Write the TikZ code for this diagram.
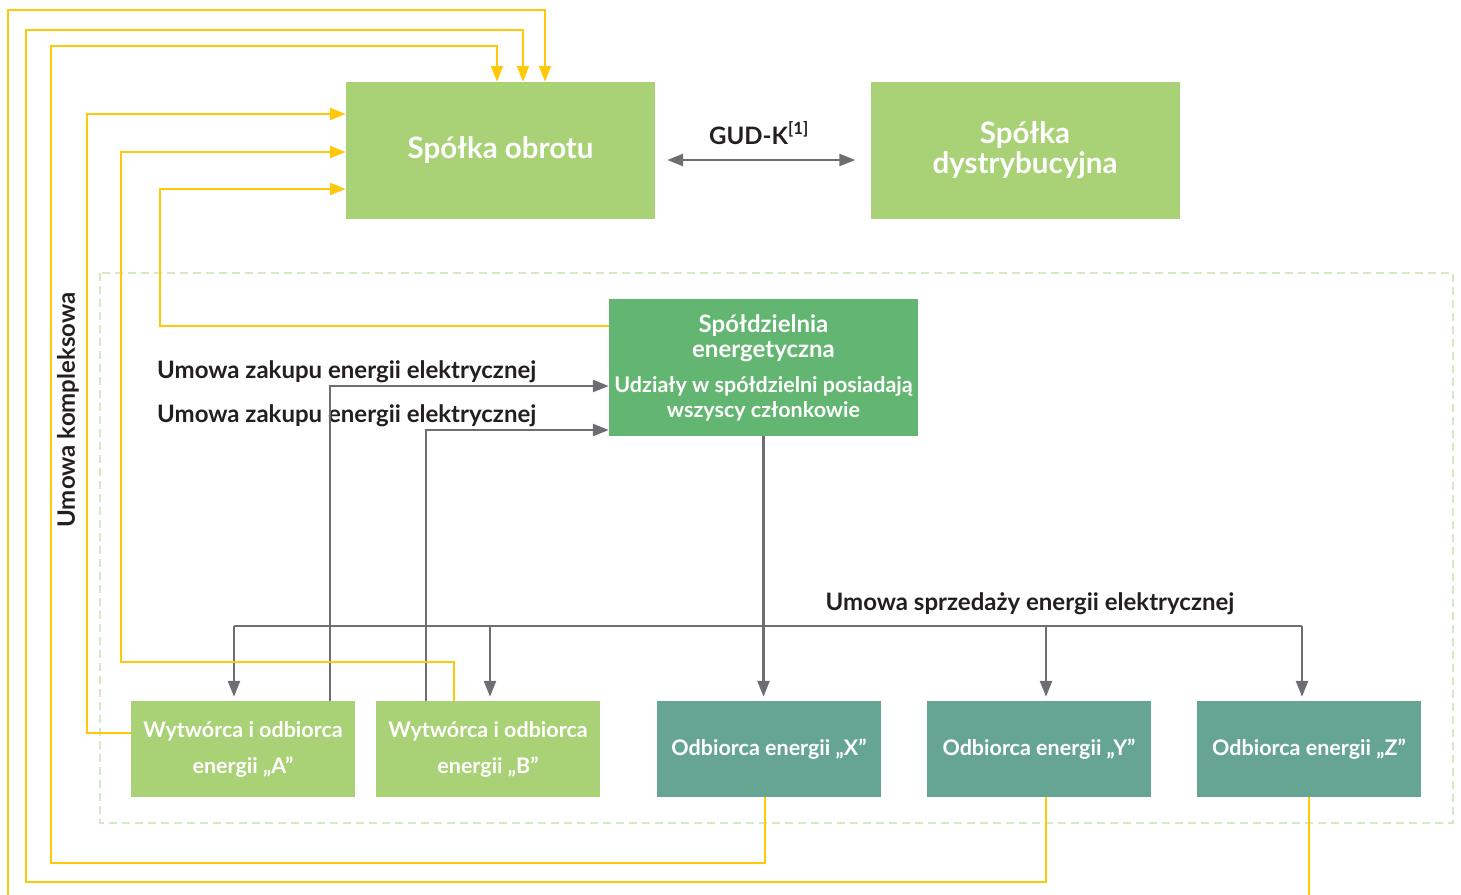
\documentclass[tikz,border=0pt]{standalone}
\usepackage{fontspec}
\setmainfont{Lato}
\usetikzlibrary{arrows.meta,calc}

\definecolor{jasnaziel}{HTML}{A9D175}
\definecolor{spoldziel}{HTML}{63B671}
\definecolor{morska}{HTML}{66A594}
\definecolor{zolta}{HTML}{FFC80B}
\definecolor{szara}{HTML}{6D6E71}
\definecolor{ramkaziel}{HTML}{D5EAC0}
\definecolor{tekst}{HTML}{231F20}

\tikzset{
	pole/.style={inner sep=0pt, text=white, align=center},
	spolka/.style={pole, fill=jasnaziel, minimum width=309pt, minimum height=137pt, font=\fontsize{29.5}{30}\selectfont\bfseries},
	wytworca/.style={pole, fill=jasnaziel, minimum width=224pt, minimum height=96pt, font=\fontsize{21.5}{36}\selectfont\bfseries},
	odbiorca/.style={pole, fill=morska, minimum width=224pt, minimum height=96pt, font=\fontsize{21.5}{24}\selectfont\bfseries},
	umowa/.style={inner sep=0pt, text=tekst, font=\fontsize{24}{26}\selectfont\bfseries},
	zolty/.style={draw=zolta, line width=2.5pt},
	szary/.style={draw=szara, line width=2.5pt},
	grot/.style={-{Triangle[length=16pt,width=12pt]}},
}

\begin{document}
\begin{tikzpicture}[x=1pt, y=-1pt]
			%%%%% START %%%%%
			\useasboundingbox (0,0) rectangle (1461,894);
			
			\draw[ramkaziel, line width=2.5pt, dash pattern=on 8pt off 5pt] (100,273) rectangle (1453,823);
			
			\node[spolka] (obrot) at (500.5,150.5) {Spółka obrotu};
			\node[spolka] (dystr) at (1025,150.5) {Spółka\\dystrybucyjna};
			\node[spolka, fill=spoldziel, font=\fontsize{24}{25}\selectfont\bfseries] (spoldz) at (763.5,367.5) {Spółdzielnia\\energetyczna\\[10pt]
				{\fontsize{21.5}{24}\selectfont Udziały w spółdzielni posiadają}\\{\fontsize{21.5}{24}\selectfont wszyscy członkowie}};
			
			\node[wytworca] (wytwA) at (243,749) {Wytwórca i odbiorca\\energii „A”};
			\node[wytworca] (wytwB) at (488,749) {Wytwórca i odbiorca\\energii „B”};
			\node[odbiorca] (odbX) at (769,749) {Odbiorca energii „X”};
			\node[odbiorca] (odbY) at (1039,749) {Odbiorca energii „Y”};
			\node[odbiorca] (odbZ) at (1309,749) {Odbiorca energii „Z”};
			
			% umowy
			\node[umowa, anchor=base west] (zakupA) at (157,378) {Umowa zakupu energii elektrycznej};
			\node[umowa, anchor=base west] (zakupB) at (157,422) {Umowa zakupu energii elektrycznej};
			\node[umowa, anchor=base] (sprzedaz) at (1030,610) {Umowa sprzedaży energii elektrycznej};
			\node[umowa, rotate=90] (kompleks) at (68,410) {Umowa kompleksowa};
			\node[umowa, anchor=base] (gud) at (759,144) {GUD-K\textsuperscript{[1]}};
			
			% GUD-K
			\draw[szary, {Triangle[length=16pt,width=12pt]}-{Triangle[length=16pt,width=12pt]}] ([xshift=12pt,yshift=-9.5pt]obrot.east) -- ([xshift=-15pt,yshift=-9.5pt]dystr.west);
			
			% zakup od wytworcow
			\draw[szary, grot] ([xshift=87pt]wytwA.north) |- ([yshift=-18.5pt]spoldz.west);
			\draw[szary, grot] ([xshift=-62pt]wytwB.north) |- ([yshift=-62.5pt]spoldz.west);
			
			% sprzedaz
			\coordinate (szynaL) at (234,626);
			\coordinate (szynaR) at (1302,626);
			\draw[szary] (szynaL) -- (szynaR);
			\draw[szary, grot, shorten >=4pt] (spoldz.south) -- (spoldz.south |- odbX.north);
			\draw[szary, grot, shorten >=4pt] (szynaL) -- (szynaL |- wytwA.north);
			\draw[szary, grot, shorten >=4pt] ([xshift=2pt]wytwB.north |- szynaL) -- ([xshift=2pt]wytwB.north);
			\draw[szary, grot, shorten >=4pt] ([xshift=7pt]odbY.north |- szynaL) -- ([xshift=7pt]odbY.north);
			\draw[szary, grot, shorten >=4pt] (szynaR) -- (szynaR |- odbZ.north);
			
			% umowa kompleksowa
			\draw[zolty, grot] ([yshift=41.5pt]spoldz.west) -| (160,189) -- ([yshift=-38.5pt]obrot.west);
			\draw[zolty, grot] ([xshift=-34pt]wytwB.north) |- (121,662) |- ([yshift=-1.5pt]obrot.west);
			\draw[zolty, grot] ([yshift=16pt]wytwA.west) -| (87,114) -- ([yshift=36.5pt]obrot.west);
			\draw[zolty, grot] ([xshift=-4pt]odbX.south) |- (51,863) |- (497,46) -- ([xshift=-3.5pt]obrot.north);
			\draw[zolty, grot] ([xshift=7pt]odbY.south) |- (26,882) |- (523,30) -- ([xshift=22.5pt]obrot.north);
			\draw[zolty, grot] (odbZ.south) |- (8,910) |- (545,10) -- ([xshift=44.5pt]obrot.north);
			
			%%%%% END %%%%%
\end{tikzpicture}
\end{document}
